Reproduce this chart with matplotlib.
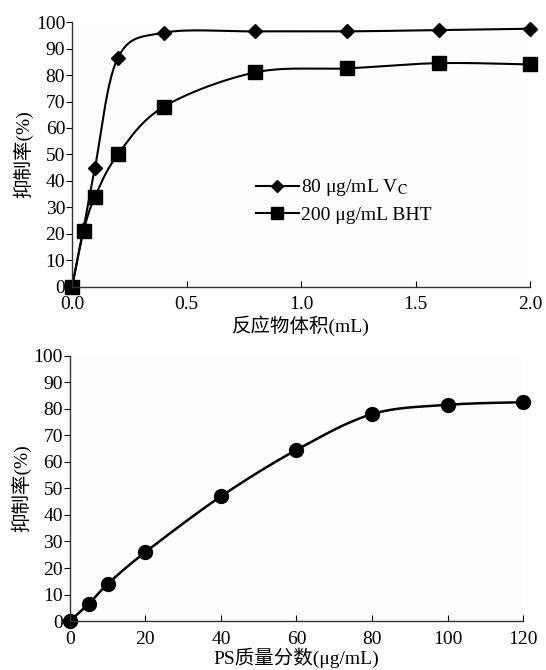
import numpy as np
import matplotlib.pyplot as plt

plt.rcParams['font.family'] = ['Liberation Serif', 'Noto Sans CJK SC']
plt.rcParams['mathtext.fontset'] = 'stix'

# top chart: reaction volume (mL) vs inhibition rate (%)
volume = [0, 0.05, 0.1, 0.2, 0.4, 0.8, 1.2, 1.6, 2.0]
vc_rate = [0, 22, 45, 86.5, 96, 96.5, 96.5, 97, 97.5]
bht_vol = [0, 0.05, 0.1, 0.2, 0.4, 0.8, 1.2, 1.6, 2.0]
bht_rate = [0, 21, 34, 50, 68, 81, 82.5, 84.5, 84]

# bottom chart: PS concentration vs inhibition rate (%)
ps_conc = [0, 5, 10, 20, 40, 60, 80, 100, 120]
ps_rate = [0, 6.5, 14, 26, 47, 64.5, 78, 81.5, 82.5]

top_xticks = [0.0, 0.5, 1.0, 1.5, 2.0]
bot_xticks = [0, 20, 40, 60, 80, 100, 120]
yticks = list(range(0, 101, 10))


def smooth(x, y, n=30):
    # Bezier smoothing through the points (spreadsheet-style smoothed line)
    p = np.column_stack([x, y]).astype(float)
    pts = [p[0]]
    for i in range(len(p) - 1):
        p0 = p[i - 1] if i > 0 else p[i]
        p3 = p[i + 2] if i + 2 < len(p) else p[i + 1]
        c1 = p[i] + (p[i + 1] - p0) / 6
        c2 = p[i + 1] - (p3 - p[i]) / 6
        t = np.linspace(0, 1, n)[1:, None]
        seg = ((1 - t) ** 3 * p[i] + 3 * (1 - t) ** 2 * t * c1
               + 3 * (1 - t) * t ** 2 * c2 + t ** 3 * p[i + 1])
        pts.extend(seg)
    pts = np.array(pts)
    return pts[:, 0], pts[:, 1]


def style_axes(ax):
    ax.set_facecolor('#fdfdfd')
    ax.spines['top'].set_visible(False)
    ax.spines['right'].set_visible(False)
    for s in ['left', 'bottom']:
        ax.spines[s].set_color('#333333')
        ax.spines[s].set_linewidth(1.0)
    ax.tick_params(axis='x', direction='in', length=4, labelsize=14, pad=7)
    ax.tick_params(axis='y', direction='out', length=4, labelsize=14, pad=1)
    ax.set_ylim(0, 100)
    ax.set_yticks(yticks)


fig = plt.figure(figsize=(5.46, 6.70), dpi=100)
ax1 = fig.add_axes([0.132, 0.572, 0.839, 0.395])
ax2 = fig.add_axes([0.128, 0.073, 0.830, 0.396])

# top chart
sx, sy = smooth(volume, vc_rate)
ax1.plot(sx, sy, color='black', lw=1.5)
ax1.plot(volume, vc_rate, 'D', color='black', ms=7, clip_on=False)
ax1.plot([], [], '-D', color='black', ms=6, lw=1.5, label=r'80 μg/mL V$_{\rm C}$')
sx, sy = smooth(bht_vol, bht_rate)
ax1.plot(sx, sy, color='black', lw=1.5)
ax1.plot(bht_vol, bht_rate, 's', color='black', ms=10, clip_on=False)
ax1.plot([], [], '-s', color='black', ms=8, lw=1.5, label='200 μg/mL BHT')
ax1.set_xlim(0, 2.0)
ax1.set_xticks(top_xticks)
ax1.set_xticklabels([f'{v:.1f}' for v in top_xticks])
style_axes(ax1)
ax1.set_xlabel('反应物体积(mL)', fontsize=14, labelpad=1)
ax1.set_ylabel('抑制率(%)', fontsize=14, labelpad=2)
ax1.legend(loc='upper left', bbox_to_anchor=(0.38, 0.45), frameon=False,
           fontsize=14, handlelength=2.2, handletextpad=0.1, labelspacing=0.4,
           borderpad=0)

# bottom chart
sx, sy = smooth(ps_conc, ps_rate)
ax2.plot(sx, sy, color='black', lw=1.8)
ax2.plot(ps_conc, ps_rate, 'o', color='black', ms=10, clip_on=False)
ax2.set_xlim(0, 120)
ax2.set_xticks(bot_xticks)
style_axes(ax2)
ax2.set_xlabel('PS质量分数(μg/mL)', fontsize=14, labelpad=0)
ax2.set_ylabel('抑制率(%)', fontsize=14, labelpad=2)

fig.savefig('out.png', dpi=100)
